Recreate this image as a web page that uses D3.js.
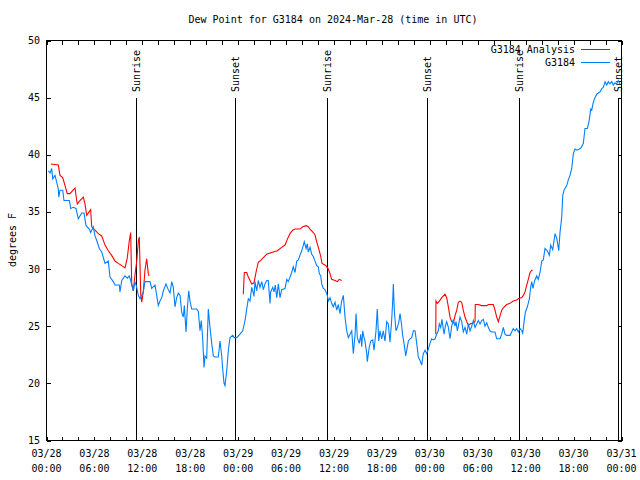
<!DOCTYPE html>
<html><head><meta charset="utf-8">
<script src="https://cdn.jsdelivr.net/npm/d3@7"></script>
<style>
body{margin:0;background:#fff;}
text{font-family:"DejaVu Sans Mono",monospace;font-size:10px;fill:#000;}
</style></head>
<body><svg id="c" width="640" height="480"></svg>
<script>
const title = "Dew Point for G3184 on 2024-Mar-28 (time in UTC)";
const yLabel = "degrees F";
const xTickHours = [0,6,12,18,24,30,36,42,48,54,60,66,72];
const xTickDates = ["03/28","03/28","03/28","03/28","03/29","03/29","03/29","03/29","03/30","03/30","03/30","03/30","03/31"];
const xTickTimes = ["00:00","06:00","12:00","18:00","00:00","06:00","12:00","18:00","00:00","06:00","12:00","18:00","00:00"];
const yTicks = [15,20,25,30,35,40,45,50];
const sunEventNames = ["Sunrise","Sunset","Sunrise","Sunset","Sunrise","Sunset"];
const sunEventHours = [11.24,23.6,35.09,47.63,59.15,71.6];
const seriesNames = ["G3184 Analysis","G3184"];

// hours since 03/28 00:00 UTC, dew point (F)
const analysisSeg1 = [[0.56,39.2],[1.48,39.1],[1.69,38.2],[2.03,38.0],[2.32,37.3],[2.6,36.6],[2.94,36.6],[3.57,37.1],[3.78,36.0],[3.86,35.7],[4.19,36.0],[4.61,36.3],[4.82,35.7],[5.03,34.7],[5.53,35.2],[5.66,33.7],[6.07,33.4],[6.49,33.1],[6.91,32.9],[7.33,32.1],[7.74,31.6],[8.16,31.2],[8.58,30.7],[8.99,30.5],[9.42,30.3],[9.83,30.1],[10.12,31.0],[10.37,32.5],[10.54,33.2],[10.67,28.7],[10.87,28.1],[11.08,29.5],[11.3,30.7],[11.5,32.5],[11.62,32.8],[11.8,27.8],[11.92,27.1],[12.12,28.0],[12.33,29.9],[12.54,30.9],[12.75,29.6],[12.84,29.4]];
const analysisSeg2 = [[24.64,27.8],[24.77,29.7],[25.07,29.7],[25.27,29.3],[25.7,28.7],[25.98,28.8],[26.23,29.7],[26.52,30.6],[26.73,30.7],[27.15,31.0],[27.57,31.3],[27.99,31.4],[28.4,31.5],[28.9,31.6],[29.45,31.9],[29.87,32.1],[30.15,32.6],[30.49,33.1],[30.83,33.4],[31.12,33.5],[31.74,33.5],[32.08,33.7],[32.5,33.8],[32.78,33.7],[33.0,33.5],[33.41,33.2],[33.62,33.0],[33.75,32.6],[33.91,32.2],[34.16,31.6],[34.34,31.1],[34.5,30.5],[34.75,30.4],[35.0,30.3],[35.29,30.0],[35.5,29.6],[35.71,29.1],[36.13,29.0],[36.41,28.9],[36.66,29.1],[36.96,29.0]];
const analysisSeg3 = [[48.74,24.3],[48.77,27.2],[48.94,27.0],[49.19,27.2],[49.49,27.5],[49.9,27.8],[50.11,27.5],[50.32,26.7],[50.53,25.8],[50.74,25.4],[50.94,25.3],[51.15,25.9],[51.37,26.4],[51.57,27.1],[51.78,27.2],[51.99,27.1],[52.19,26.4],[52.4,25.8],[52.62,25.4],[52.82,25.1],[53.03,25.2],[53.45,25.3],[53.66,25.4],[53.69,26.9],[54.07,26.9],[54.49,26.8],[55.12,26.8],[55.32,26.9],[55.95,26.9],[56.16,26.4],[56.37,25.8],[56.58,25.4],[56.79,25.9],[57.0,26.4],[57.2,26.6],[57.62,26.9],[58.04,27.0],[58.45,27.2],[58.88,27.3],[59.08,27.4],[59.51,27.5],[59.72,27.7],[59.92,28.0],[60.13,28.6],[60.33,29.1],[60.55,29.7],[60.76,29.9],[60.88,29.9]];
const stationObs = [[0.23,38.6],[0.44,38.4],[0.65,38.8],[0.78,37.9],[1.06,38.2],[1.28,37.6],[1.48,37.0],[1.54,36.3],[1.69,36.9],[2.03,36.9],[2.19,36.0],[2.86,36.0],[2.94,35.7],[3.03,35.3],[3.36,35.4],[3.69,35.3],[3.98,34.4],[4.41,34.9],[4.7,34.9],[4.95,33.8],[5.36,33.5],[5.53,33.2],[5.86,33.7],[6.07,32.9],[6.29,32.5],[6.61,31.8],[6.91,31.5],[7.33,30.5],[7.74,30.7],[7.95,29.3],[8.36,28.9],[8.58,28.6],[9.12,28.6],[9.2,28.0],[9.42,29.0],[9.83,29.4],[10.12,29.2],[10.37,29.4],[10.54,29.0],[10.87,28.1],[11.08,28.9],[11.3,28.4],[11.5,27.7],[11.71,27.4],[12.12,28.0],[12.33,28.9],[12.75,28.9],[12.96,28.9],[13.17,28.3],[13.59,28.6],[13.8,27.7],[14.0,26.8],[14.21,27.2],[14.43,27.5],[14.63,28.1],[14.96,28.7],[15.25,28.2],[15.47,27.9],[15.68,28.9],[15.88,28.4],[16.09,26.7],[16.3,27.5],[16.5,27.9],[16.72,27.7],[16.93,26.2],[17.13,25.8],[17.26,26.8],[17.47,24.5],[17.63,26.5],[17.81,28.1],[17.97,27.2],[18.18,26.5],[18.81,26.5],[19.01,26.3],[19.22,24.6],[19.38,25.5],[19.56,23.9],[19.72,21.4],[19.85,22.4],[20.06,22.2],[20.26,26.5],[20.47,24.9],[20.69,23.5],[20.89,22.4],[21.1,22.3],[21.51,22.3],[21.73,23.7],[21.94,22.4],[22.06,21.3],[22.23,20.0],[22.35,19.8],[22.57,21.1],[22.77,22.9],[22.98,24.0],[23.32,24.2],[23.48,24.0],[23.82,24.0],[24.23,24.3],[24.57,24.6],[24.86,25.5],[25.07,26.5],[25.27,27.4],[25.48,27.2],[25.7,28.4],[25.86,28.0],[25.98,27.6],[26.11,28.9],[26.32,28.1],[26.52,29.0],[26.73,28.4],[26.95,28.9],[27.15,28.2],[27.36,28.7],[27.57,29.0],[27.77,29.0],[27.99,27.0],[28.07,28.0],[28.33,28.4],[28.49,28.0],[28.65,28.6],[28.83,27.5],[29.03,28.7],[29.24,27.5],[29.45,28.2],[29.87,28.3],[30.08,29.1],[30.28,28.9],[30.49,29.3],[30.7,29.7],[30.9,30.2],[31.12,29.7],[31.33,30.7],[31.53,30.8],[31.74,31.2],[31.96,31.6],[32.16,32.1],[32.28,32.4],[32.5,31.8],[32.66,32.2],[32.78,31.5],[33.0,31.9],[33.21,31.3],[33.41,31.1],[33.62,30.7],[33.84,30.3],[34.04,30.2],[34.16,29.6],[34.34,29.4],[34.46,28.7],[34.66,28.3],[34.87,28.2],[35.0,28.0],[35.16,27.7],[35.29,27.2],[35.5,27.5],[35.71,27.0],[35.91,26.7],[36.13,27.1],[36.34,26.4],[36.54,26.9],[36.75,26.1],[36.96,27.2],[37.17,27.7],[37.38,25.8],[37.59,24.6],[37.8,24.0],[38.01,24.3],[38.22,24.6],[38.42,22.6],[38.64,24.3],[38.76,26.1],[38.92,24.0],[39.17,23.5],[39.35,24.3],[39.47,23.2],[39.6,24.6],[39.76,24.0],[39.88,23.7],[40.1,22.6],[40.17,21.9],[40.42,23.2],[40.6,23.7],[40.85,23.8],[41.01,22.9],[41.26,24.6],[41.42,26.5],[41.6,23.7],[41.76,24.6],[41.97,23.9],[42.17,24.6],[42.39,23.7],[42.6,25.4],[42.8,25.2],[43.01,23.6],[43.22,25.5],[43.35,27.2],[43.43,28.7],[43.55,26.4],[43.76,24.6],[43.93,24.9],[44.1,25.3],[44.27,26.1],[44.43,25.3],[44.6,24.2],[44.77,23.5],[44.98,22.4],[45.11,22.9],[45.31,23.7],[45.52,23.9],[45.73,24.0],[45.94,24.6],[46.15,24.6],[46.36,23.5],[46.56,22.3],[46.77,22.0],[46.98,21.6],[47.18,22.6],[47.4,22.9],[47.61,22.6],[47.81,23.0],[48.02,23.5],[48.23,23.9],[48.44,23.8],[48.65,23.9],[48.86,24.3],[49.06,24.6],[49.19,25.2],[49.36,24.9],[49.52,25.6],[49.69,24.7],[49.78,24.3],[49.94,25.0],[50.11,25.4],[50.32,24.9],[50.53,23.9],[50.74,25.0],[50.94,25.6],[51.15,25.0],[51.28,25.4],[51.44,24.6],[51.57,25.0],[51.78,25.8],[51.99,25.4],[52.19,24.5],[52.4,24.9],[52.62,24.3],[52.82,25.2],[53.03,24.6],[53.24,25.0],[53.45,25.5],[53.66,24.9],[53.87,25.2],[54.07,25.5],[54.28,25.2],[54.49,25.5],[54.7,25.6],[54.91,25.0],[55.12,25.3],[55.32,24.9],[55.53,24.6],[55.74,24.5],[56.16,24.5],[56.37,23.9],[56.79,23.9],[57.0,24.3],[57.2,24.9],[57.41,24.3],[57.62,24.2],[58.04,24.2],[58.25,24.5],[58.45,24.8],[58.67,24.6],[58.88,24.8],[59.08,24.5],[59.3,24.8],[59.51,24.6],[59.63,24.4],[59.8,25.4],[59.96,26.2],[60.21,26.7],[60.46,27.4],[60.63,28.4],[60.76,28.9],[60.92,28.3],[61.13,29.0],[61.38,29.4],[61.58,29.1],[61.8,29.7],[62.01,30.7],[62.21,30.8],[62.42,31.8],[62.71,31.6],[62.96,31.2],[63.14,32.1],[63.39,31.7],[63.68,33.1],[63.89,32.7],[64.14,31.6],[64.3,33.2],[64.51,34.5],[64.64,36.4],[64.8,36.9],[65.14,37.3],[65.34,37.8],[65.55,38.2],[65.77,38.8],[65.97,40.1],[66.18,40.5],[66.43,40.4],[66.72,40.5],[66.93,40.6],[67.22,41.0],[67.43,42.3],[67.72,42.3],[67.93,42.9],[68.15,44.0],[68.27,43.9],[68.47,44.6],[68.68,45.0],[68.9,45.3],[69.1,45.4],[69.31,45.5],[69.52,45.8],[69.72,45.9],[69.94,46.4],[70.15,46.1],[70.35,46.4],[70.56,46.2],[70.78,46.4],[70.98,46.1],[71.19,46.3],[71.4,46.2],[71.6,46.5],[71.81,46.2]];

const colors = ["#ff0000","#0080ff"];
const svg = d3.select("#c");
const L=46.5,R=621.5,T=40.5,B=440.5;
const x = d3.scaleLinear().domain([0,72]).range([L,R]);
const y = d3.scaleLinear().domain([15,50]).range([B,T]);

svg.append("text").attr("x",333).attr("y",23).attr("text-anchor","middle").text(title);

const xMinor = d3.range(0,73,2);
const ax = (g, axis) => { g.call(axis); g.select(".domain").remove(); g.selectAll("line").attr("stroke","#000").attr("shape-rendering","crispEdges"); g.selectAll("text").remove(); };
svg.append("g").attr("transform",`translate(0,${B})`).call(g=>ax(g,d3.axisBottom(x).tickValues(xMinor).tickSize(-4)));
svg.append("g").attr("transform",`translate(0,${T})`).call(g=>ax(g,d3.axisTop(x).tickValues(xMinor).tickSize(-4)));
svg.append("g").attr("transform",`translate(${L},0)`).call(g=>ax(g,d3.axisLeft(y).tickValues(yTicks).tickSize(-4)));
svg.append("g").attr("transform",`translate(${R},0)`).call(g=>ax(g,d3.axisRight(y).tickValues(yTicks).tickSize(-4)));

xTickHours.forEach((h,i)=>{
  svg.append("text").attr("x",x(h)).attr("y",457).attr("text-anchor","middle").text(xTickDates[i]);
  svg.append("text").attr("x",x(h)).attr("y",472).attr("text-anchor","middle").text(xTickTimes[i]);
});
yTicks.forEach(v=>{
  svg.append("text").attr("x",40).attr("y",y(v)).attr("dy","0.35em").attr("text-anchor","end").text(v);
});
svg.append("text").attr("transform",`translate(12,240) rotate(-90)`).attr("text-anchor","middle").attr("dy","0.35em").text(yLabel);

sunEventHours.forEach((h,i)=>{
  const px = Math.round(x(h))+0.5;
  svg.append("line").attr("x1",px).attr("x2",px).attr("y1",98).attr("y2",B).attr("stroke","#000").attr("shape-rendering","crispEdges");
  svg.append("text").attr("transform",`translate(${px},92) rotate(-90)`).attr("dy","0.35em").attr("text-anchor","start").text(sunEventNames[i]);
});

const line = d3.line().x(d=>x(d[0])).y(d=>y(d[1]));
[analysisSeg1,analysisSeg2,analysisSeg3].forEach(seg=>{
  svg.append("path").datum(seg).attr("d",line).attr("fill","none").attr("stroke",colors[0]).attr("stroke-width",1.1);
});
svg.append("path").datum(stationObs).attr("d",line).attr("fill","none").attr("stroke",colors[1]).attr("stroke-width",1.1);

svg.append("rect").attr("x",L).attr("y",T).attr("width",R-L).attr("height",B-T).attr("fill","none").attr("stroke","#000").attr("shape-rendering","crispEdges");

seriesNames.forEach((n,i)=>{
  const ly = 49.5 + i*13;
  svg.append("text").attr("x",575).attr("y",ly).attr("dy","0.35em").attr("text-anchor","end").text(n);
  svg.append("line").attr("x1",581).attr("x2",610).attr("y1",ly).attr("y2",ly).attr("stroke",colors[i]).attr("shape-rendering","crispEdges");
});
</script></body></html>
